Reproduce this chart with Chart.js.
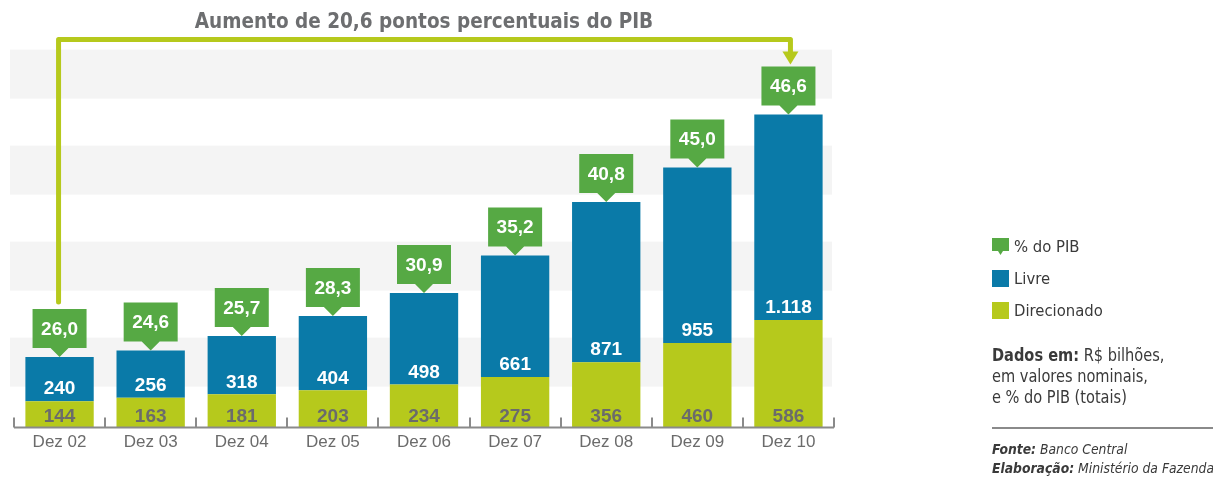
<!DOCTYPE html>
<html>
<head>
<meta charset="utf-8">
<script src="https://cdn.jsdelivr.net/npm/chart.js@4.4.0/dist/chart.umd.min.js"></script>
<style>
  body { margin: 0; background: #fff; }
  #wrap { position: relative; width: 1213px; height: 477px; }
  #side {
    position: absolute; left: 992px; top: 230px; width: 221px;
    font-family: "Liberation Sans Narrow", "DejaVu Sans Condensed", sans-serif;
    color: #3a3a3a;
  }
  .item { height: 32px; font-size: 16.5px; display: flex; align-items: center; }
  .sw { width: 17px; height: 17px; margin-right: 5px; }
  .note { font-size: 18px; line-height: 21px; margin-top: 18px; white-space: nowrap;
          transform: scaleX(0.9); transform-origin: left top; }
  .rule { border-top: 2px solid #8a8a8a; margin-top: 20px; }
  .src { font-size: 14.5px; font-style: italic; line-height: 19px; margin-top: 11px; white-space: nowrap;
         transform: scaleX(0.95); transform-origin: left top; }
</style>
</head>
<body>
<div id="wrap">
  <canvas id="creditChart" width="1213" height="477"></canvas>
  <div id="side">
    <div class="item"><svg class="sw" viewBox="0 0 17 17"><path d="M0 0H17V13H11L8.5 17L6 13H0Z" fill="#56a944"/></svg>% do PIB</div>
    <div class="item"><div class="sw" style="background:#0a7aa8"></div>Livre</div>
    <div class="item"><div class="sw" style="background:#b6c91c"></div>Direcionado</div>
    <div class="note"><b>Dados em:</b> R$ bilhões,<br>em valores nominais,<br>e % do PIB (totais)</div>
    <div class="rule"></div>
    <div class="src"><b>Fonte:</b> Banco Central<br><b>Elaboração:</b> Ministério da Fazenda</div>
  </div>
</div>
<script>
const categories = ['Dez 02', 'Dez 03', 'Dez 04', 'Dez 05', 'Dez 06', 'Dez 07', 'Dez 08', 'Dez 09', 'Dez 10'];
const direcionado = [144, 163, 181, 203, 234, 275, 356, 460, 586];
const livre = [240, 256, 318, 404, 498, 661, 871, 955, 1118];
const pibPct = [26.0, 24.6, 25.7, 28.3, 30.9, 35.2, 40.8, 45.0, 46.6];

const BLUE = '#0a7aa8';
const LIME = '#b6c91c';
const CALLOUT = '#56a944';
const GREY_TEXT = '#6b6b6b';

function fmtPt(v, dec) {
    return v.toLocaleString('pt-BR', { minimumFractionDigits: dec, maximumFractionDigits: dec });
}

// grey bands behind bars, axis line with upward ticks
const backdrop = {
    id: 'backdrop',
    beforeDatasetsDraw(chart) {
        const { ctx, chartArea } = chart;
        ctx.save();
        ctx.fillStyle = '#f4f4f4';
        for (let i = 0; i < 4; i++) {
            ctx.fillRect(chartArea.left - 4, chartArea.top + i * 96, chartArea.right - chartArea.left + 2, 49);
        }
        ctx.restore();
    },
    afterDatasetsDraw(chart) {
        const { ctx, chartArea, scales } = chart;
        const y0 = scales.y.getPixelForValue(0);
        ctx.save();
        ctx.strokeStyle = '#8a8a8a';
        ctx.lineWidth = 2;
        ctx.beginPath();
        ctx.moveTo(chartArea.left, y0);
        ctx.lineTo(chartArea.right, y0);
        const step = (chartArea.right - chartArea.left) / categories.length;
        for (let i = 0; i <= categories.length; i++) {
            const px = Math.round(chartArea.left + i * step);
            ctx.moveTo(px, y0);
            ctx.lineTo(px, y0 - 10);
        }
        ctx.stroke();
        ctx.restore();
    }
};

// value labels, % do PIB callouts and the arrow
const annotations = {
    id: 'annotations',
    afterDraw(chart) {
        const { ctx, chartArea } = chart;
        const metaD = chart.getDatasetMeta(0);
        const metaL = chart.getDatasetMeta(1);
        ctx.save();
        ctx.textAlign = 'center';
        ctx.textBaseline = 'middle';
        ctx.font = 'bold 19px "Liberation Sans", Arial, sans-serif';

        metaD.data.forEach((bar, i) => {
            ctx.fillStyle = GREY_TEXT;
            ctx.fillText(fmtPt(direcionado[i], 0), bar.x, bar.base - 11);
        });
        metaL.data.forEach((bar, i) => {
            ctx.fillStyle = '#ffffff';
            ctx.fillText(fmtPt(livre[i], 0), bar.x, bar.base - 12);
        });

        // callouts
        const boxW = 54, boxH = 39, tri = 9;
        const tops = [];
        metaL.data.forEach((bar, i) => {
            const tip = bar.y;
            const bottom = tip - tri;
            const top = bottom - boxH;
            tops.push(top);
            ctx.fillStyle = CALLOUT;
            ctx.beginPath();
            ctx.moveTo(bar.x - boxW / 2, top);
            ctx.lineTo(bar.x + boxW / 2, top);
            ctx.lineTo(bar.x + boxW / 2, bottom);
            ctx.lineTo(bar.x + 9, bottom);
            ctx.lineTo(bar.x, tip);
            ctx.lineTo(bar.x - 9, bottom);
            ctx.lineTo(bar.x - boxW / 2, bottom);
            ctx.closePath();
            ctx.fill();
            ctx.fillStyle = '#ffffff';
            ctx.fillText(fmtPt(pibPct[i], 1), bar.x, top + boxH / 2 + 1);
        });

        // arrow from first to last callout
        const first = metaL.data[0];
        const last = metaL.data[metaL.data.length - 1];
        const yTop = chartArea.top - 10;
        const lastTop = tops[tops.length - 1];
        ctx.strokeStyle = LIME;
        ctx.lineWidth = 5;
        ctx.lineJoin = 'round';
        ctx.lineCap = 'round';
        ctx.beginPath();
        ctx.moveTo(first.x - 1, tops[0] - 7);
        ctx.lineTo(first.x - 1, yTop);
        ctx.lineTo(last.x + 2, yTop);
        ctx.lineTo(last.x + 2, lastTop - 14);
        ctx.stroke();
        ctx.fillStyle = LIME;
        ctx.beginPath();
        ctx.moveTo(last.x + 2 - 8, lastTop - 15);
        ctx.lineTo(last.x + 2 + 8, lastTop - 15);
        ctx.lineTo(last.x + 2, lastTop - 2);
        ctx.closePath();
        ctx.fill();
        ctx.restore();
    }
};

new Chart(document.getElementById('creditChart'), {
    type: 'bar',
    data: {
        labels: categories,
        datasets: [{
            label: 'Direcionado',
            data: direcionado,
            backgroundColor: LIME,
            barPercentage: 0.75,
            categoryPercentage: 1
        }, {
            label: 'Livre',
            data: livre,
            backgroundColor: BLUE,
            barPercentage: 0.75,
            categoryPercentage: 1
        }]
    },
    options: {
        responsive: false,
        animation: false,
        devicePixelRatio: 1,
        layout: { padding: { left: 14, right: 379, top: 0, bottom: 19 } },
        plugins: {
            legend: { display: false },
            tooltip: { enabled: false },
            title: {
                display: true,
                text: 'Aumento de 20,6 pontos percentuais do PIB',
                color: '#6d6e70',
                font: { family: '"Liberation Sans Narrow", "DejaVu Sans Condensed", sans-serif', size: 20.5, weight: 'bold', lineHeight: 1.2 },
                padding: { top: 10, bottom: 15 }
            }
        },
        scales: {
            x: {
                stacked: true,
                grid: { display: false, drawTicks: false },
                border: { display: false },
                ticks: {
                    color: GREY_TEXT,
                    padding: 5,
                    font: { family: '"Liberation Sans", Arial, sans-serif', size: 17 }
                }
            },
            y: {
                stacked: true,
                display: false,
                min: 0,
                max: 2057
            }
        }
    },
    plugins: [backdrop, annotations]
});
</script>
</body>
</html>
